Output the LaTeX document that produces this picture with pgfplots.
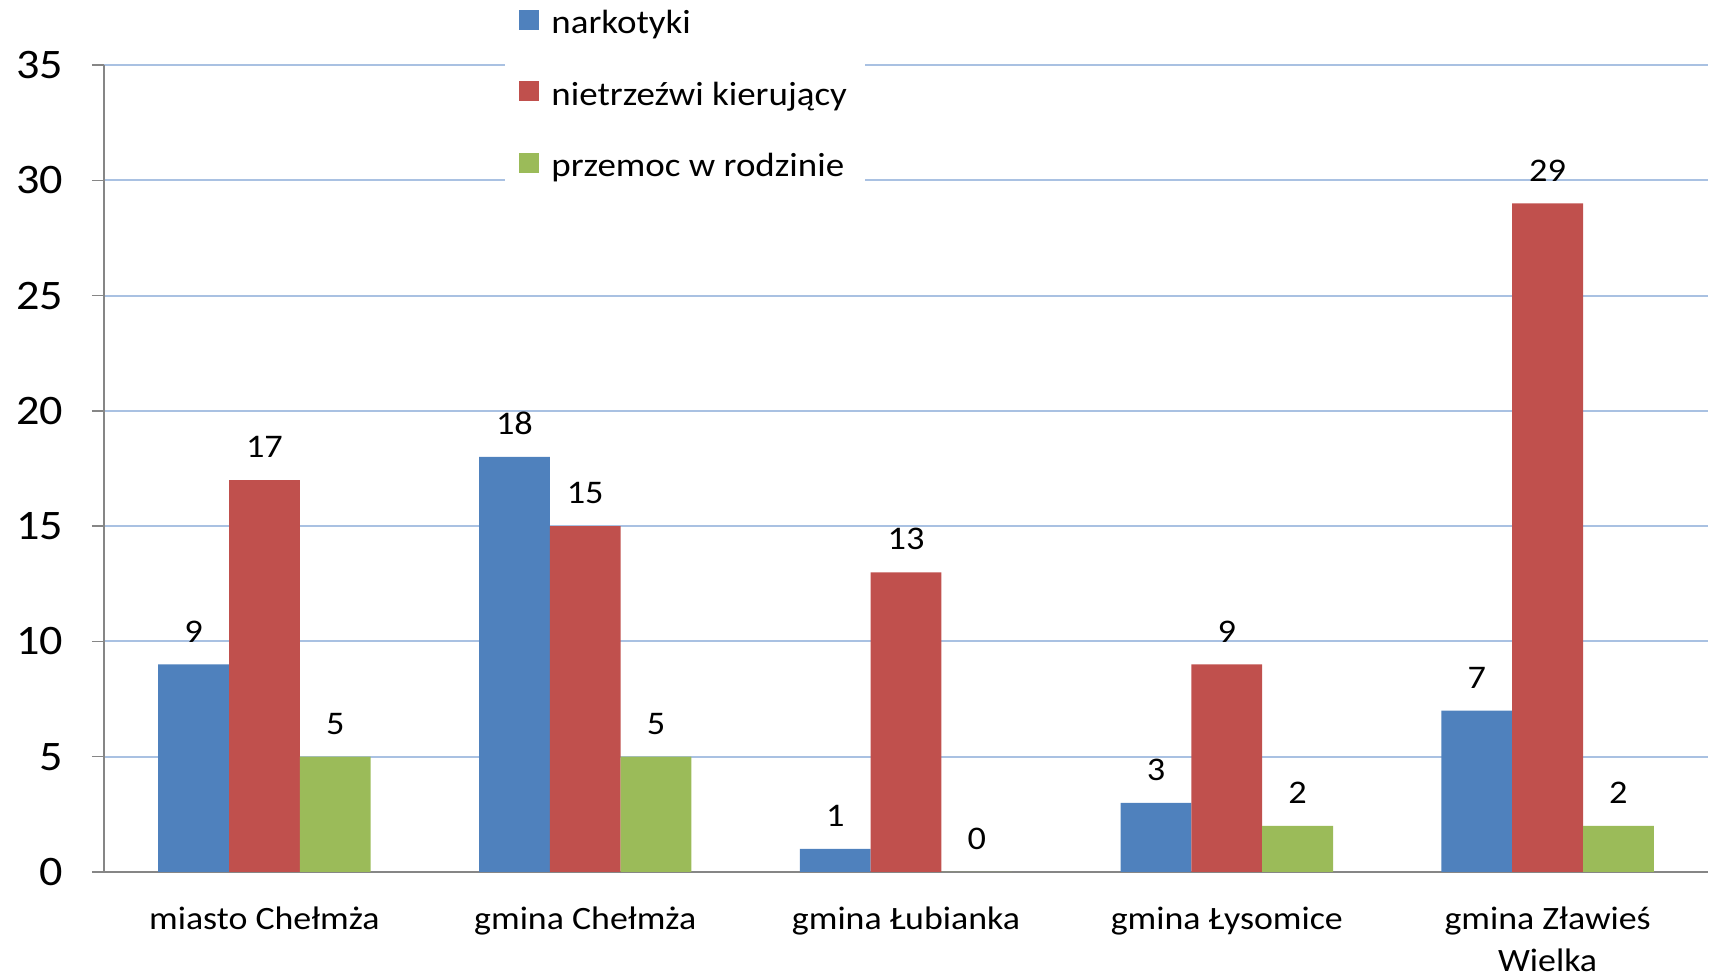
\documentclass[border=0pt]{standalone}
\usepackage{fontspec}
\setmainfont{Carlito}[FakeStretch=1.1]
\usepackage{pgfplots}
\pgfplotsset{compat=1.18}
\definecolor{cblue}{HTML}{4F81BD}
\definecolor{cred}{HTML}{C0504D}
\definecolor{cgreen}{HTML}{9BBB59}
\definecolor{cgrid}{HTML}{A9C1E2}
\definecolor{caxis}{HTML}{868686}
\begin{document}
\begin{tikzpicture}
\begin{axis}[
  at={(52pt,53pt)}, anchor=south west,
  width=802pt, height=403.5pt, scale only axis,
  ybar=0pt, bar width=35.4pt,
  xmin=-0.5, xmax=4.5, ymin=0, ymax=35,
  axis x line*=bottom, axis y line*=left,
  axis line style={caxis, line width=0.7pt, -},
  xtick={0,1,2,3,4},
  xticklabels={miasto Chełmża, gmina Chełmża, gmina Łubianka, gmina Łysomice, {gmina Zławieś\\Wielka}},
  xticklabel style={align=center, font=\fontsize{16.3}{21}\selectfont, yshift=-8pt},
  major x tick style={draw=none},
  extra x ticks={-0.5,0.5,1.5,2.5,3.5,4.5},
  extra x tick labels={},
  extra x tick style={major tick length=6.5pt, tick align=outside, tick style={caxis, line width=0.7pt}},
  ytick={0,5,...,35},
  yticklabel style={font=\fontsize{21}{24}\selectfont, xshift=-11pt},
  /pgf/number format/assume math mode=true,
  y tick style={caxis, line width=0.7pt},
  major tick length=6pt, tick align=outside,
  ymajorgrids, grid style={cgrid, line width=1pt},
  nodes near coords,
  every node near coord/.append style={font=\fontsize{16.5}{19}\selectfont, black, yshift=7.5pt},
  legend style={draw=none, fill=white, at={(0.2469,1)}, anchor=north west, xshift=2.5pt, yshift=31.8pt,
    font=\fontsize{16.8}{19}\selectfont, row sep=18.75pt, inner xsep=7pt, inner ysep=4pt,
    nodes={text height=10pt, text depth=3pt, inner sep=2pt}},
  legend cell align=left,
  legend image code/.code={\fill[#1] (0pt,-1.5pt) rectangle (10pt,8.5pt); \path (14pt,0pt);},
]
\addplot[fill=cblue, draw=none] coordinates {(0,9) (1,18) (2,1) (3,3) (4,7)};
\addplot[fill=cred, draw=none] coordinates {(0,17) (1,15) (2,13) (3,9) (4,29)};
\addplot[fill=cgreen, draw=none] coordinates {(0,5) (1,5) (2,0) (3,2) (4,2)};
\legend{narkotyki, nietrzeźwi kierujący, przemoc w rodzinie}
\end{axis}
\pgfresetboundingbox
\path[use as bounding box] (0,0) rectangle (858.5pt,489pt);
\end{tikzpicture}
\end{document}
